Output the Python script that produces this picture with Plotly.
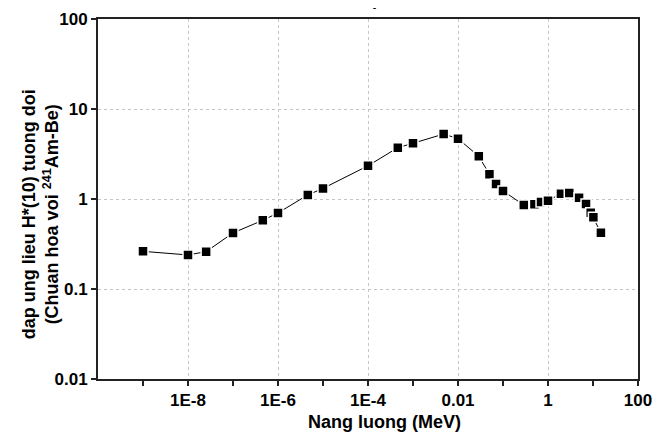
import plotly.graph_objects as go

# Data
energy_mev = [1e-9, 1e-8, 2.53e-8, 1e-7, 4.6e-7, 1e-6, 4.6e-6, 1e-5, 1e-4, 4.6e-4,
              1e-3, 4.8e-3, 1e-2, 0.029, 0.05, 0.07, 0.1, 0.29, 0.5, 0.7,
              1.0, 1.94, 2.97, 4.9, 7.0, 8.9, 10.2, 15.0]
response = [0.262, 0.239, 0.26, 0.42, 0.58, 0.70, 1.11, 1.31, 2.34, 3.72,
             4.16, 5.27, 4.68, 2.98, 1.88, 1.47, 1.23, 0.857, 0.873, 0.927,
             0.957, 1.146, 1.166, 1.03, 0.88, 0.705, 0.626, 0.423]

x_tickvals = [1e-8, 1e-6, 1e-4, 1e-2, 1, 100]
x_ticktext = ["1E-8", "1E-6", "1E-4", "0.01", "1", "100"]
x_minor_vals = [1e-9, 1e-7, 1e-5, 1e-3, 0.1, 10]
y_tickvals = [0.01, 0.1, 1, 10, 100]
y_ticktext = ["0.01", "0.1", "1", "10", "100"]

FONT = "Liberation Sans, Arial, sans-serif"
AX = "#222222"

fig = go.Figure()
fig.add_trace(go.Scatter(
    x=energy_mev, y=response, mode="lines+markers",
    line=dict(color="black", width=1),
    marker=dict(symbol="square", size=10, color="black",
                line=dict(color="white", width=1.5)),
    showlegend=False,
))

# page body adds an 8px offset; size the figure to end at the window edge
fig.update_layout(
    width=659, height=426,
    margin=dict(l=90, r=29, t=11, b=55),
    plot_bgcolor="white", paper_bgcolor="white",
    font=dict(family=FONT, color="black"),
)

fig.update_xaxes(
    type="log", range=[-10, 2], automargin=False,
    tickmode="array", tickvals=x_tickvals, ticktext=x_ticktext,
    tickfont=dict(family=FONT, size=17, weight="bold", color="black"),
    ticks="outside", ticklen=5, tickwidth=1.5, tickcolor=AX,
    showline=True, mirror=True, linecolor=AX, linewidth=2,
    showgrid=True, gridcolor="#c4c4c4", griddash="dot", gridwidth=1,
    zeroline=False,
    minor=dict(tickmode="array", tickvals=x_minor_vals, ticks="outside",
               ticklen=5, tickwidth=1.5, tickcolor=AX, showgrid=False),
)
fig.update_yaxes(
    type="log", range=[-2, 2], automargin=False,
    tickmode="array", tickvals=y_tickvals, ticktext=y_ticktext,
    tickfont=dict(family=FONT, size=17, weight="bold", color="black"),
    ticks="outside", ticklen=5, tickwidth=1.5, tickcolor=AX,
    showline=True, mirror=True, linecolor=AX, linewidth=2,
    showgrid=True, gridcolor="#c4c4c4", griddash="dot", gridwidth=1,
    zeroline=False,
)

# Axis titles
fig.add_annotation(
    text="Nang luong (MeV)", xref="paper", yref="paper",
    x=0.531, y=-0.119, xanchor="center", yanchor="middle", showarrow=False,
    font=dict(family=FONT, size=18, weight="bold", color="black"),
)
fig.add_annotation(
    text="dap ung lieu H*(10) tuong doi<br>(Chuan hoa voi <sup>241</sup>Am-Be)",
    xref="paper", yref="paper", x=-0.107, y=0.458,
    xanchor="center", yanchor="middle", textangle=-90, showarrow=False,
    font=dict(family=FONT, size=18, weight="bold", color="black"),
)
# Chart title (cut off at the top edge in the reference)
fig.add_annotation(
    text="Response", xref="paper", yref="paper", x=0.526, y=1.022,
    xanchor="center", yanchor="bottom", showarrow=False,
    font=dict(family=FONT, size=18, weight="bold", color="black"),
)

fig.write_html("out.html")
